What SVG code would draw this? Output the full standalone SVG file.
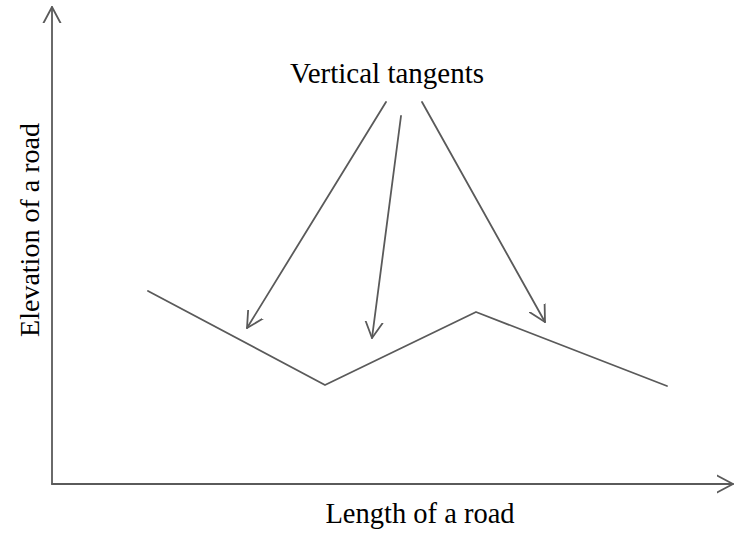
<svg xmlns="http://www.w3.org/2000/svg" width="734" height="537" viewBox="0 0 734 537">
<style>
.ln{fill:none;stroke:#5a5a5a;stroke-width:1.8;stroke-linecap:round;stroke-linejoin:round}
text{font-family:"Liberation Serif","Times New Roman",serif;font-size:29px;fill:#000}
</style>
<defs>
<marker id="ah" markerWidth="20" markerHeight="20" refX="16" refY="10" orient="auto" markerUnits="userSpaceOnUse">
<path d="M0,1.5 L16,10 L0,18.5" fill="none" stroke="#5a5a5a" stroke-width="1.8" stroke-linecap="round" stroke-linejoin="round"/>
</marker>
</defs>
<rect width="734" height="537" fill="#fff"/>
<g id="axes">
<line class="ln" x1="52" y1="484" x2="52" y2="7" marker-end="url(#ah)"/>
<line class="ln" x1="52" y1="484" x2="733" y2="484" marker-end="url(#ah)"/>
</g>
<g id="road">
<polyline class="ln" points="148,291 325,385 476,312 667,386"/>
</g>
<g id="connectors">
<line class="ln" x1="386" y1="102" x2="247" y2="328" marker-end="url(#ah)"/>
<line class="ln" x1="401" y1="116" x2="372" y2="338" marker-end="url(#ah)"/>
<line class="ln" x1="422" y1="102" x2="545" y2="322" marker-end="url(#ah)"/>
</g>
<g id="labels">
<text x="387" y="83" text-anchor="middle">Vertical tangents</text>
<text x="420" y="523" text-anchor="middle" style="font-size:28.5px">Length of a road</text>
<text transform="translate(39,230) rotate(-90)" text-anchor="middle" style="font-size:28px">Elevation of a road</text>
</g>
</svg>
